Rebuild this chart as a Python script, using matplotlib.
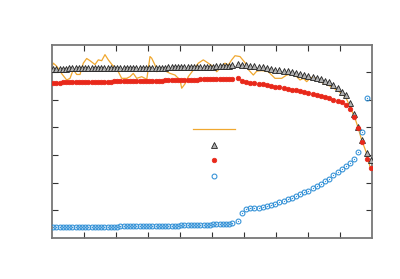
import numpy as np
import matplotlib
matplotlib.use("Agg")
import matplotlib.pyplot as plt

# ---- data ----
x_left = 0.04 + 0.1 * np.arange(57)
x_right = 5.806 + 0.1299 * np.arange(33)
x = np.concatenate([x_left, x_right])

tri_left = [6.13, 6.13, 6.13, 6.13, 6.13, 6.14, 6.14, 6.14, 6.14, 6.14,
            6.14, 6.14, 6.14, 6.15, 6.15, 6.15, 6.15, 6.15, 6.15, 6.15,
            6.15, 6.16, 6.16, 6.16, 6.16, 6.16, 6.16, 6.16, 6.17, 6.17,
            6.17, 6.17, 6.17, 6.17, 6.17, 6.17, 6.18, 6.18, 6.18, 6.18,
            6.18, 6.18, 6.18, 6.19, 6.19, 6.19, 6.19, 6.20, 6.20, 6.20,
            6.20, 6.21, 6.21, 6.22, 6.22, 6.23, 6.25]
tri_right = [6.30, 6.28, 6.26, 6.24, 6.22, 6.20, 6.18, 6.16, 6.13, 6.10,
             6.08, 6.05, 6.03, 6.00, 5.97, 5.94, 5.90, 5.86, 5.82, 5.78,
             5.74, 5.69, 5.63, 5.55, 5.43, 5.30, 5.17, 4.90, 4.49, 4.02,
             3.54, 3.08, 2.82]

red_left = [5.62, 5.62, 5.62, 5.63, 5.63, 5.63, 5.63, 5.64, 5.64, 5.64,
            5.64, 5.65, 5.65, 5.65, 5.65, 5.66, 5.66, 5.66, 5.66, 5.67,
            5.67, 5.67, 5.67, 5.68, 5.68, 5.68, 5.68, 5.69, 5.69, 5.69,
            5.69, 5.70, 5.70, 5.70, 5.70, 5.71, 5.71, 5.71, 5.72, 5.72,
            5.72, 5.72, 5.73, 5.73, 5.73, 5.73, 5.74, 5.74, 5.74, 5.75,
            5.75, 5.75, 5.76, 5.76, 5.76, 5.77, 5.77]
red_right = [5.78, 5.68, 5.65, 5.62, 5.60, 5.58, 5.56, 5.53, 5.50, 5.47,
             5.45, 5.42, 5.40, 5.37, 5.34, 5.31, 5.28, 5.25, 5.22, 5.18,
             5.14, 5.10, 5.06, 5.01, 4.96, 4.91, 4.81, 4.66, 4.37, 3.97,
             3.48, 2.84, 2.54]

blue_left = [0.38, 0.38, 0.38, 0.38, 0.38, 0.38, 0.38, 0.39, 0.39, 0.39,
             0.39, 0.39, 0.39, 0.39, 0.40, 0.40, 0.40, 0.40, 0.40, 0.40,
             0.40, 0.41, 0.41, 0.41, 0.41, 0.41, 0.41, 0.42, 0.42, 0.42,
             0.42, 0.42, 0.43, 0.43, 0.43, 0.43, 0.44, 0.44, 0.44, 0.44,
             0.45, 0.45, 0.45, 0.45, 0.46, 0.46, 0.46, 0.47, 0.47, 0.47,
             0.48, 0.48, 0.48, 0.49, 0.49, 0.50, 0.52]
blue_right = [0.61, 0.91, 1.03, 1.07, 1.08, 1.09, 1.11, 1.15, 1.19, 1.23,
              1.28, 1.33, 1.39, 1.45, 1.51, 1.58, 1.65, 1.71, 1.79, 1.87,
              1.96, 2.05, 2.14, 2.26, 2.38, 2.50, 2.60, 2.70, 2.84, 3.12,
              3.82, 5.06, np.nan]

tri = np.array(tri_left + tri_right)
red = np.array(red_left + red_right)
blue = np.array(blue_left + blue_right)

orange_x = [0.016, 0.041, 0.147, 0.303, 0.459, 0.5625, 0.666, 0.772, 0.875, 0.978,
            1.084, 1.1875, 1.344, 1.447, 1.553, 1.656, 1.759, 1.866, 2.022, 2.072,
            2.178, 2.334, 2.4375, 2.54, 2.647, 2.803, 2.906, 2.959, 3.0625, 3.116,
            3.219, 3.272, 3.375, 3.478, 3.584, 3.6875, 3.844, 4.0, 4.053, 4.156,
            4.259, 4.416, 4.572, 4.728, 4.884, 5.041, 5.147, 5.25, 5.406, 5.509,
            5.616, 5.719, 5.875, 6.031, 6.134, 6.291, 6.397, 6.553, 6.759, 6.969,
            7.178, 7.334, 7.491, 7.647, 7.75, 7.853, 7.959, 8.0625, 8.166, 8.322,
            8.478, 8.6875, 8.897, 9.103, 9.209, 9.3125, 9.469, 9.572, 9.678, 9.8125,
            9.9375]
orange_y = [6.25, 6.33, 6.22, 5.95, 5.72, 5.78, 6.10, 5.92, 5.92, 6.33,
            6.50, 6.42, 6.28, 6.45, 6.42, 6.64, 6.45, 6.29, 6.10, 6.02,
            5.78, 5.78, 5.84, 5.96, 5.78, 5.84, 5.78, 5.72, 6.57, 6.51,
            6.26, 6.02, 6.08, 6.14, 6.02, 5.96, 5.90, 5.72, 5.42, 5.58,
            5.84, 6.08, 6.33, 6.45, 6.33, 6.20, 6.02, 6.14, 6.33, 6.26,
            6.45, 6.60, 6.57, 6.35, 6.10, 5.90, 6.04, 6.06, 6.02, 5.78,
            5.78, 5.90, 5.93, 5.84, 5.72, 5.78, 5.66, 5.78, 5.84, 5.72,
            5.60, 5.50, 5.36, 5.18, 5.02, 4.75, 4.33, 3.97, 3.54, 3.12,
            2.58]

x_ticks = [1, 2, 3, 4, 5, 6, 7, 8, 9]
y_ticks = [1, 2, 3, 4, 5, 6]

# ---- figure ----
fig = plt.figure(figsize=(4.0, 2.79), dpi=100)
ax = fig.add_axes([52/400, 1 - 237.7/279, 320/400, 193/279])

c_orange = "#f0a830"
c_red = "#e8281a"
c_blue = "#2f8fd6"

l_or, = ax.plot(orange_x, orange_y, color=c_orange, lw=0.9, zorder=2)
l_tri, = ax.plot(x, tri, ls="none", marker="^", ms=3.9, mfc="#b0b0b0",
                 mec="#222222", mew=0.6, zorder=3)
l_red, = ax.plot(x, red, ls="none", marker="o", ms=3.3, mfc=c_red,
                 mec=c_red, mew=0.5, zorder=4)
l_blue, = ax.plot(x, blue, ls="none", marker="o", ms=3.5, mfc="none",
                  mec=c_blue, mew=0.75, zorder=5)
ax.plot(x, blue, ls="none", marker="o", ms=0.9, mfc=c_blue, mec=c_blue,
        mew=0, zorder=5)

ax.set_xlim(0, 10)
ax.set_ylim(0, 7)
ax.set_xticks(x_ticks)
ax.set_yticks(y_ticks)
ax.tick_params(direction="in", length=4, width=0.8, color="#333333",
               top=True, right=True, labelbottom=False, labelleft=False)
for s in ax.spines.values():
    s.set_color("#777777")
    s.set_linewidth(1.3)

leg = ax.legend([l_or, l_tri, l_red, l_blue], [" "] * 4,
                loc="upper left", bbox_to_anchor=(0.44, 0.585),
                frameon=False, fontsize=8, handlelength=3.8,
                handletextpad=0.0, borderpad=0.0, borderaxespad=0.0,
                labelspacing=0.52, numpoints=1)

fig.savefig("out.png", dpi=100, facecolor="white")
